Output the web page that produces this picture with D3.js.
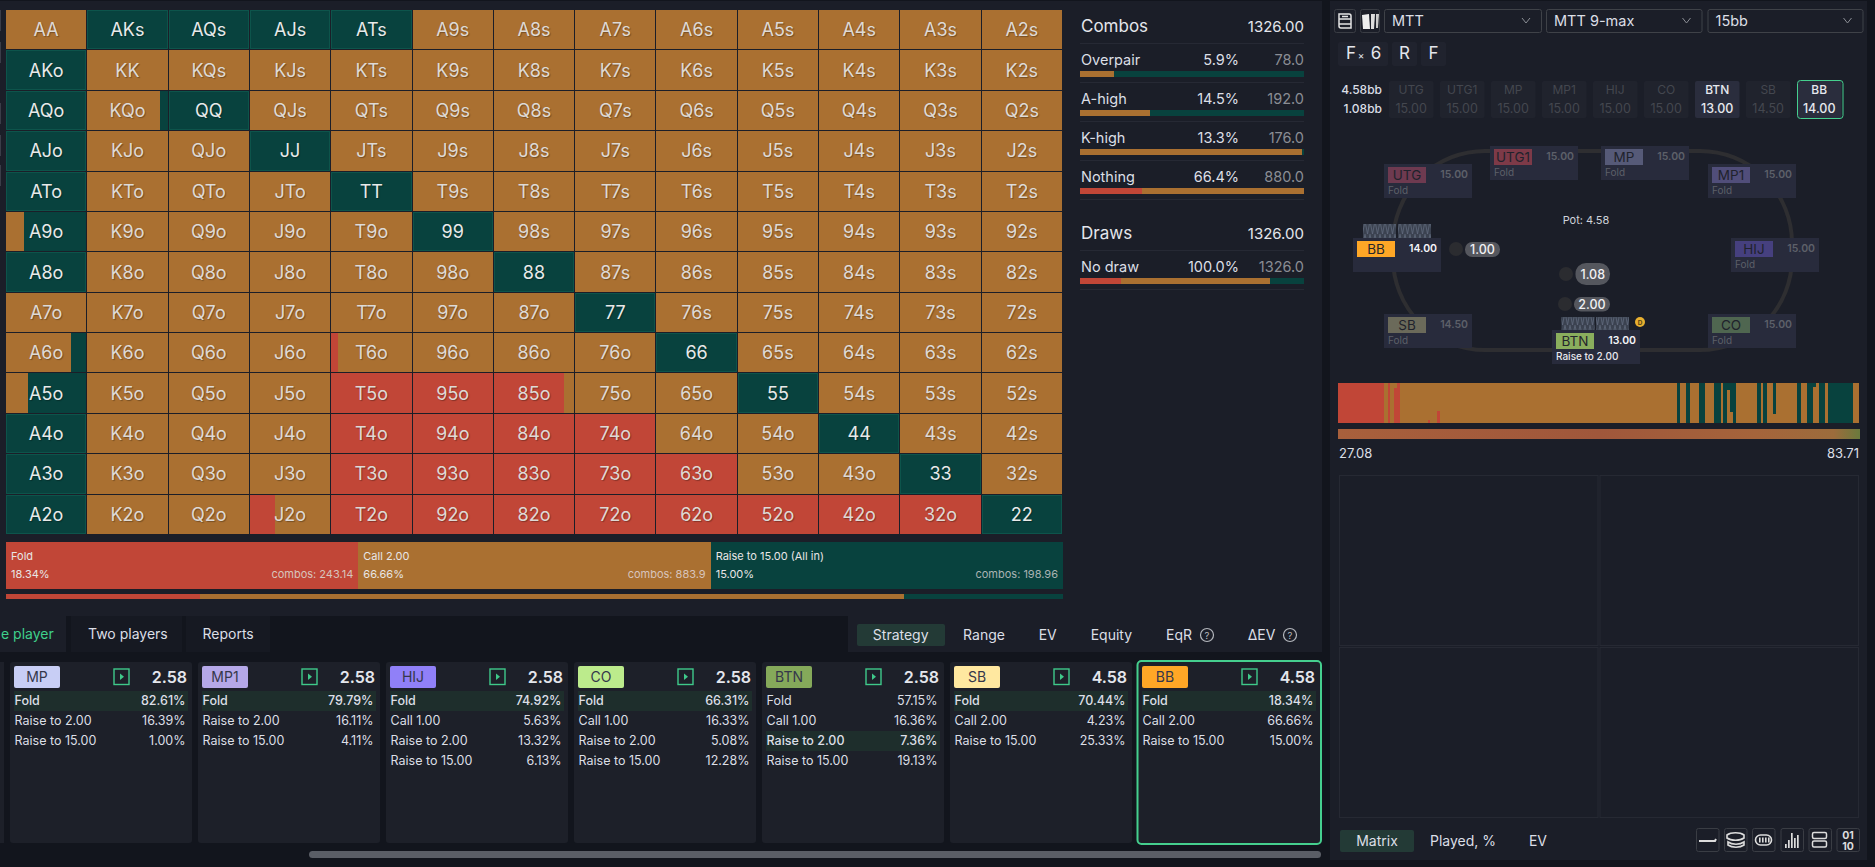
<!DOCTYPE html>
<html>
<head>
<meta charset="utf-8">
<script src="https://cdn.jsdelivr.net/npm/d3@7"></script>
<style>
html, body { margin: 0; padding: 0; background: #12151d; overflow: hidden; }
svg { display: block; }
text { font-family: Inter, "Noto Sans", sans-serif; }
.hand { text-shadow: 1px 1px 1px rgba(0,0,0,.3); }
</style>
</head>
<body>
<svg id="chart" width="1875" height="867"></svg>
<script>
const FOLD = '#c14637', CALL = '#aa7031', RAISE = '#08423e';

// ---- matrix ----
const ranks = ['A','K','Q','J','T','9','8','7','6','5','4','3','2'];
const matrixRows = [
  'CRRRRCCCCCCCC',
  'RCCCCCCCCCCCC',
  'RCRCCCCCCCCCC',
  'RCCRCCCCCCCCC',
  'RCCCRCCCCCCCC',
  'CCCCCRCCCCCCC',
  'RCCCCCRCCCCCC',
  'CCCCCCCRCCCCC',
  'CCCCCCCCRCCCC',
  'CCCCFFFCCRCCC',
  'RCCCFFFFCCRCC',
  'RCCCFFFFFCCRC',
  'RCCCFFFFFFFFR'
];
// hands that are split between actions: [hand, fold, call, raise]
const mixedHands = [
  ['KQo', 0, 0.90, 0.10],
  ['A9o', 0, 0.22, 0.78],
  ['A6o', 0, 0.81, 0.19],
  ['A5o', 0, 0.28, 0.72],
  ['T6o', 0.08, 0.92, 0],
  ['85o', 0.87, 0.13, 0],
  ['J2o', 0.31, 0.69, 0]
];

// ---- action summary ----
const actionNames = ['Fold', 'Call 2.00', 'Raise to 15.00 (All in)'];
const actionPct = [18.34, 66.66, 15.00];
const actionPctLabels = ['18.34%', '66.66%', '15.00%'];
const actionCombos = ['243.14', '883.9', '198.96'];
const actionColors = [FOLD, CALL, RAISE];

// ---- combos / draws panel ----
const statLabels = ['Overpair', 'A-high', 'K-high', 'Nothing'];
const statPct = ['5.9%', '14.5%', '13.3%', '66.4%'];
const statCombos = ['78.0', '192.0', '176.0', '880.0'];
const statFold = [0, 0, 0, 0.277];
const statCall = [0.152, 0.312, 0.99, 0.723];
const statRaise = [0.848, 0.688, 0.01, 0];
const drawLabels = ['No draw'];
const drawPct = ['100.0%'];
const drawCombos = ['1326.0'];
const drawFold = [0.183];
const drawCall = [0.667];
const drawRaise = [0.15];

// ---- table ----
const positions = ['UTG','UTG1','MP','MP1','HIJ','CO','BTN','SB','BB'];
const stacks = ['15.00','15.00','15.00','15.00','15.00','15.00','13.00','14.50','14.00'];
const seatActions = ['Fold','Fold','Fold','Fold','Fold','Fold','Raise to 2.00','Fold',''];
const seatChipColors = ['#6e3a50','#7d3a48','#565a78','#514e7a','#46407f','#4f6650','#8aae5d','#6b6a5a','#ffa726'];
const seatLeft = [1384, 1490, 1601, 1708, 1731, 1708, 1552, 1384, 1353];
const seatTop = [164, 146, 146, 164, 238, 314, 330, 314, 238];

// ---- EV strip, one column per hand class ----
const stripCount = 169;
const stripFoldFull = [0,1,2,3,4,5,6,7,8,9,10,11,12,13,14,16,19];
const stripFoldPart = [[18, 0.87], [29, 0.08], [32, 0.31]];
const stripRaiseFull = [110,113,117,118,122,123,125,128,136,138,149,152,153,156,157,159,160,161,162,163,164,165,166];
const stripRaisePart = [[126, 0.18], [127, 0.72], [141, 0.78], [154, 0.10]];

// ---- strategy cards ----
const cardNames = ['MP','MP1','HIJ','CO','BTN','SB','BB'];
const cardPots = ['2.58','2.58','2.58','2.58','2.58','4.58','4.58'];
const cardColors = ['#c8cef5','#b5a8e8','#9080f8','#bceb8c','#85a95a','#ffe8a0','#ffa726'];
const cardLabels = [
  ['Fold','Raise to 2.00','Raise to 15.00'],
  ['Fold','Raise to 2.00','Raise to 15.00'],
  ['Fold','Call 1.00','Raise to 2.00','Raise to 15.00'],
  ['Fold','Call 1.00','Raise to 2.00','Raise to 15.00'],
  ['Fold','Call 1.00','Raise to 2.00','Raise to 15.00'],
  ['Fold','Call 2.00','Raise to 15.00'],
  ['Fold','Call 2.00','Raise to 15.00']
];
const cardValues = [
  ['82.61%','16.39%','1.00%'],
  ['79.79%','16.11%','4.11%'],
  ['74.92%','5.63%','13.32%','6.13%'],
  ['66.31%','16.33%','5.08%','12.28%'],
  ['57.15%','16.36%','7.36%','19.13%'],
  ['70.44%','4.23%','25.33%'],
  ['18.34%','66.66%','15.00%']
];
const cardHighlight = [0, 0, 0, 0, 2, 0, 0];

const svg = d3.select('#chart');

function rect(x, y, w, h, fill, rx) {
  return svg.append('rect').attr('x', x).attr('y', y).attr('width', w).attr('height', h)
    .attr('fill', fill).attr('rx', rx || 0);
}
function box(x, y, w, h, stroke, rx) {
  return rect(x + 0.5, y + 0.5, w - 1, h - 1, 'none', rx).attr('stroke', stroke);
}
function label(x, y, s, size, fill, anchor, weight) {
  return svg.append('text').attr('x', x).attr('y', y).text(s)
    .attr('font-size', size).attr('fill', fill)
    .attr('text-anchor', anchor || 'start').attr('font-weight', weight || 400);
}

// backgrounds
rect(0, 1, 1322, 615, '#1b1e28');
rect(1330, 1, 537, 859, '#1b1e28');
rect(848, 616, 474, 36, '#1b1e28');
rect(0, 616, 66, 36, '#1b1e28');
rect(71, 616, 111, 36, '#161922');
rect(186, 616, 84, 36, '#161922');
[10, 42, 103, 135, 165].forEach(y => rect(0, y, 1, 21, '#3a3d48'));

// ---- matrix ----
const cols = d3.scaleBand().domain(d3.range(13)).range([6, 1063]);
const rows = d3.scaleBand().domain(d3.range(13)).range([10, 535]);
const cellGap = 1;

const mixedLookup = new Map(mixedHands.map(d => [d[0], d.slice(1)]));
const simpleShares = { F: [1, 0, 0], C: [0, 1, 0], R: [0, 0, 1] };

function handName(r, c) {
  if (r === c) return ranks[r] + ranks[c];
  return r < c ? ranks[r] + ranks[c] + 's' : ranks[c] + ranks[r] + 'o';
}

const cells = [];
matrixRows.forEach((line, r) => {
  line.split('').forEach((code, c) => {
    const hand = handName(r, c);
    cells.push({ r, c, hand, code, shares: mixedLookup.get(hand) || simpleShares[code] });
  });
});

const cellG = svg.append('g').attr('shape-rendering', 'crispEdges');
cells.forEach(d => {
  const x0 = cols(d.c), w = cols.bandwidth() - cellGap;
  const y0 = rows(d.r), h = rows.bandwidth() - cellGap;
  const share = d3.scaleLinear().domain([0, 1]).range([x0, x0 + w]);
  let acc = 0;
  d.shares.forEach((s, i) => {
    if (s <= 0) return;
    cellG.append('rect').attr('x', share(acc)).attr('y', y0)
      .attr('width', share(acc + s) - share(acc)).attr('height', h)
      .attr('fill', actionColors[i]);
    acc += s;
  });
  if (d.shares[2] === 1) {
    cellG.append('rect').attr('x', x0 + 0.5).attr('y', y0 + 0.5)
      .attr('width', w - 1).attr('height', h - 1)
      .attr('fill', 'none').attr('stroke', '#0d544b');
  }
});
svg.append('g').selectAll('text').data(cells).join('text')
  .attr('class', 'hand')
  .attr('x', d => cols(d.c) + cols.bandwidth() / 2 - 0.5)
  .attr('y', d => rows(d.r) + rows.bandwidth() / 2 + 6)
  .attr('text-anchor', 'middle')
  .attr('font-size', 18)
  .attr('fill', d => d.shares[2] > 0.5 ? '#e8eaea' : '#dedad6')
  .text(d => d.hand);

// ---- action legend ----
const legendX = d3.scaleBand().domain(d3.range(actionNames.length)).range([6, 1063]);
actionNames.forEach((name, i) => {
  const x = legendX(i), w = legendX.bandwidth();
  rect(x, 542, w, 47, actionColors[i]).attr('shape-rendering', 'crispEdges');
  label(x + 5, 560, name, 11, '#e8e6e6');
  label(x + 5, 578, actionPctLabels[i], 11, '#e8e6e6');
  label(x + w - 5, 578, 'combos: ' + actionCombos[i], 11, i === 2 ? '#aab3b3' : '#d8c4bc', 'end');
});
const thinX = d3.scaleLinear().domain([0, 100]).range([6, 1063]);
let thinAcc = 0;
actionPct.forEach((p, i) => {
  rect(thinX(thinAcc), 594, thinX(p) - thinX(0), 5, actionColors[i]).attr('shape-rendering', 'crispEdges');
  thinAcc += p;
});

// ---- combos panel ----
const statX = d3.scaleLinear().domain([0, 1]).range([1080, 1304]);
function statRow(y, name, pct, combos, f, c, r) {
  label(1081, y, name, 14.5, '#dcdfe6');
  label(1239, y, pct, 14.5, '#dcdfe6', 'end');
  label(1304, y, combos, 14.5, '#8a8d94', 'end');
  let acc = 0;
  [f, c, r].forEach((s, i) => {
    if (s <= 0) return;
    rect(statX(acc), y + 6, statX(acc + s) - statX(acc), 6, actionColors[i]).attr('shape-rendering', 'crispEdges');
    acc += s;
  });
  rect(1080, y + 17, 224, 1, '#262934');
}
label(1081, 32, 'Combos', 17, '#e4e6ec');
label(1304, 32, '1326.00', 15, '#e4e6ec', 'end');
rect(1080, 43, 224, 1, '#262934');
statLabels.forEach((name, i) => {
  statRow(65 + i * 39, name, statPct[i], statCombos[i], statFold[i], statCall[i], statRaise[i]);
});
label(1081, 239, 'Draws', 17, '#e4e6ec');
label(1304, 239, '1326.00', 15, '#e4e6ec', 'end');
rect(1080, 250, 224, 1, '#262934');
drawLabels.forEach((name, i) => {
  statRow(272 + i * 39, name, drawPct[i], drawCombos[i], drawFold[i], drawCall[i], drawRaise[i]);
});

// ---- top right toolbar ----
box(1334, 9, 22, 24, '#3a3d44', 2);
svg.append('path').attr('d', 'M1339 14h10a2 2 0 0 1 2 2v12h-10a2 2 0 0 1 -2 -2z M1339 19h12 M1339 24h12 M1342 16.5h6')
  .attr('fill', 'none').attr('stroke', '#e4e4e4').attr('stroke-width', 1.5);
box(1360, 9, 20, 24, '#3a3d44', 2);
svg.append('path').attr('d', 'M1362 15l7-1 1 15-7 0z').attr('fill', '#eeeeee');
svg.append('path').attr('d', 'M1371 14l4 0-1 15-3 0z').attr('fill', '#dddddd');
svg.append('path').attr('d', 'M1376 14l3 0-1 14-2 0z').attr('fill', '#cccccc');

const dropdownLabels = ['MTT', 'MTT 9-max', '15bb'];
const dropLeft = [1384, 1546, 1707.5];
const dropWidth = [158, 156.5, 156];
dropdownLabels.forEach((s, i) => {
  box(dropLeft[i], 9, dropWidth[i], 24, '#3f4248', 2);
  label(dropLeft[i] + 8, 26, s, 14.5, '#dcdfe6');
  const cx = dropLeft[i] + dropWidth[i] - 16;
  svg.append('path').attr('d', `M${cx - 4} 18l4 5 4-5`).attr('fill', 'none').attr('stroke', '#8a8d94');
});

// breadcrumb
const crumbLeft = [1338, 1392, 1421];
const crumbWidth = [50, 25, 25];
const crumbText = ['F', 'R', 'F'];
crumbText.forEach((s, i) => {
  rect(crumbLeft[i], 42, crumbWidth[i], 24, '#20232e', 2);
});
label(1346, 59, 'F', 17, '#e4e6ec');
label(1361, 59, '×', 10, '#e4e6ec', 'middle');
label(1376, 59, '6', 17, '#e4e6ec', 'middle');
label(1404.5, 59, 'R', 17, '#e4e6ec', 'middle');
label(1433.5, 59, 'F', 17, '#e4e6ec', 'middle');

// stacks row
label(1382, 94, '4.58bb', 12, '#dcdfe6', 'end', 500);
label(1382, 113, '1.08bb', 12, '#dcdfe6', 'end', 500);
const stackX = d3.scaleBand().domain(positions).range([1389, 1848]);
positions.forEach((p, i) => {
  const x = stackX(p), active = p === 'BTN' || p === 'BB';
  rect(x, 81, 44.5, 37, active ? '#2a2d3d' : '#20232d', 2);
  const col = active ? '#e6e8ee' : '#44474f';
  label(x + 22.2, 94, p, 12, col, 'middle', active ? 500 : 400);
  label(x + 22.2, 113, stacks[i], 12.5, col, 'middle', active ? 500 : 400);
  if (p === 'BB') {
    rect(x + 0.5, 80.5, 45.5, 38, 'none', 3).attr('stroke', '#45cf8e').attr('stroke-width', 1);
  }
});

// ---- table ----
rect(1393, 151, 399, 199, 'none', 92).attr('stroke', '#2e2e31').attr('stroke-width', 4);
label(1586, 224, 'Pot: 4.58', 11, '#cfd3da', 'middle');

const defs = svg.append('defs');
defs.append('pattern').attr('id', 'zig').attr('patternUnits', 'userSpaceOnUse')
  .attr('width', 5).attr('height', 13)
  .append('path').attr('d', 'M0 0 L2.5 13 L5 0').attr('fill', 'none').attr('stroke', '#5f6a7c').attr('stroke-width', 0.8);

[[1363, 224], [1398, 224], [1561.5, 317], [1596, 317]].forEach(p => {
  rect(p[0], p[1], 33, 14, '#3b4250');
  rect(p[0], p[1], 33, 14, 'url(#zig)');
});

positions.forEach((p, i) => {
  const x = seatLeft[i], y = seatTop[i];
  const live = p === 'BTN' || p === 'BB';
  rect(x, y, 88, 34, '#282b3c');
  rect(x + 4, y + 3, 38, 16, seatChipColors[i]);
  label(x + 23, y + 16, p, 13.5, live ? '#25262c' : '#20222c', 'middle');
  label(x + 84, y + 14, stacks[i], 10.5, live ? '#f4f4f8' : '#5d6069', 'end', 600);
  label(x + 4, y + 30, seatActions[i], 10, live ? '#e8e8ee' : '#5d6069', 'start', live ? 500 : 400);
});

const betLabels = ['1.00', '1.08', '2.00'];
const betDotX = [1456, 1566, 1565];
const betDotY = [249, 274, 304];
const betPillX = [1465, 1575.5, 1574];
const betPillY = [242, 263, 297];
const betPillW = [35, 34.5, 36];
const betPillH = [15, 22, 14.5];
betLabels.forEach((s, i) => {
  svg.append('circle').attr('cx', betDotX[i]).attr('cy', betDotY[i]).attr('r', 7).attr('fill', '#2b2c30');
  rect(betPillX[i], betPillY[i], betPillW[i], betPillH[i], '#55575e', betPillH[i] * 0.48);
  label(betPillX[i] + betPillW[i] / 2, betPillY[i] + betPillH[i] / 2 + 4.5, s, 12.5, '#f0f0f3', 'middle', 500);
});
svg.append('circle').attr('cx', 1640).attr('cy', 322).attr('r', 5).attr('fill', '#e8b030');
label(1640, 324.5, 'D', 6.5, '#5a4510', 'middle', 700);

// ---- EV strip ----
const stripRows = d3.range(stripCount).map(i => ({ i, fold: 0, call: 1, raise: 0 }));
stripFoldFull.forEach(i => { stripRows[i].fold = 1; stripRows[i].call = 0; });
stripRaiseFull.forEach(i => { stripRows[i].raise = 1; stripRows[i].call = 0; });
stripFoldPart.forEach(([i, s]) => { stripRows[i].fold = s; stripRows[i].call = 1 - s; });
stripRaisePart.forEach(([i, s]) => { stripRows[i].raise = s; stripRows[i].call = 1 - s; });

const stripX = d3.scaleBand().domain(d3.range(stripCount)).range([1338, 1859]);
const stripY = d3.scaleLinear().domain([0, 1]).range([423, 383]);
const stripKeys = ['fold', 'call', 'raise'];
const stripStack = d3.stack().keys(stripKeys)(stripRows);
svg.append('g').attr('shape-rendering', 'crispEdges').selectAll('g').data(stripStack).join('g')
  .attr('fill', (d, i) => actionColors[i])
  .selectAll('rect').data(d => d).join('rect')
  .attr('x', d => stripX(d.data.i))
  .attr('width', stripX.bandwidth() + 0.3)
  .attr('y', d => stripY(d[1]))
  .attr('height', d => stripY(d[0]) - stripY(d[1]));

const grad = defs.append('linearGradient').attr('id', 'evGrad');
[[0, '#a8603c'], [0.5, '#a0573b'], [0.8, '#a5643b'], [0.95, '#9c6c3c'], [1, '#6a7a3d']].forEach(s => {
  grad.append('stop').attr('offset', s[0]).attr('stop-color', s[1]);
});
rect(1338, 429, 522, 10, 'url(#evGrad)');
label(1339, 458, '27.08', 13, '#dcdfe6');
label(1859, 458, '83.71', 13, '#dcdfe6', 'end');

// ---- analysis panels ----
const panelX = d3.scaleBand().domain([0, 1]).range([1339, 1860]);
const panelY = d3.scaleBand().domain([0, 1]).range([475, 819]);
[0, 1].forEach(r => [0, 1].forEach(c => {
  box(panelX(c), panelY(r), panelX.bandwidth() - 1, panelY.bandwidth() - 1, '#262933');
}));
rect(1340, 830, 74, 22, '#233a36', 2);
label(1377, 846, 'Matrix', 14, '#dcdfe6', 'middle');
label(1463, 846, 'Played, %', 14, '#dcdfe6', 'middle');
label(1538, 846, 'EV', 14, '#dcdfe6', 'middle');

const toolLeft = [1696, 1724, 1752, 1780.5, 1808.5, 1836.5];
toolLeft.forEach(x => box(x, 828, 23.5, 24, '#3a3d44', 2));
svg.append('path').attr('d', 'M1699 841h16 l1 -2').attr('fill', 'none').attr('stroke', '#dcdcdc').attr('stroke-width', 2);
svg.append('path').attr('d', 'M1727 835c4-3 13-3 17 0v3c-4 3-13 3-17 0z M1728 842c4 3 12 3 16 0v3c-4 3-12 3-16 0z')
  .attr('fill', 'none').attr('stroke', '#dcdcdc').attr('stroke-width', 1.6);
rect(1755.5, 835, 16, 10, 'none', 5).attr('stroke', '#dcdcdc').attr('stroke-width', 1.6);
[1759, 1762, 1765, 1768].forEach(x => rect(x, 837.5, 1.6, 5, '#dcdcdc'));
const toolBars = [4, 8, 15, 10, 13];
toolBars.forEach((h, i) => rect(1785 + i * 3, 848 - h, 1.7, h, '#dcdcdc'));
rect(1812.5, 832.5, 14, 6, 'none', 1.5).attr('stroke', '#dcdcdc').attr('stroke-width', 1.5);
rect(1812.5, 841, 14, 6, 'none', 1.5).attr('stroke', '#dcdcdc').attr('stroke-width', 1.5);
label(1848, 839, '01', 10.5, '#dcdcdc', 'middle', 700);
label(1848, 850, '10', 10.5, '#dcdcdc', 'middle', 700);

// ---- tabs ----
label(1, 639, 'e player', 14, '#3fd08c');
label(88, 639, 'Two players', 14, '#dcdfe6');
label(202.5, 639, 'Reports', 14, '#dcdfe6');
rect(857, 624, 88, 22, '#233a36', 2);
const viewTabs = ['Strategy', 'Range', 'EV', 'Equity', 'EqR', 'ΔEV'];
const viewTabX = [900.7, 984, 1047.7, 1111.4, 1179, 1261.5];
viewTabs.forEach((s, i) => label(viewTabX[i], 640, s, 14, '#dcdfe6', 'middle'));
[1207, 1290].forEach(cx => {
  svg.append('circle').attr('cx', cx).attr('cy', 635).attr('r', 6.5)
    .attr('fill', 'none').attr('stroke', '#b4b7bd').attr('stroke-width', 1.2);
  label(cx, 638.5, '?', 9.5, '#b4b7bd', 'middle');
});

// ---- strategy cards ----
const cardX = d3.scaleLinear().domain([0, 1]).range([10, 198]);
rect(0, 662, 4, 181, '#1d2029');
cardNames.forEach((name, i) => {
  const x = cardX(i);
  rect(x, 662, 182, 181, '#1d2029', 3);
  rect(x + 4, 666, 46, 22, cardColors[i], 2);
  label(x + 27, 682, name, 14, '#35374a', 'middle');
  rect(x + 104, 669, 15, 15.5, 'none').attr('stroke', '#3fc98a').attr('stroke-width', 1.4);
  svg.append('path').attr('d', `M${x + 110} 673.5l4 3.3-4 3.3z`).attr('fill', '#3fc98a');
  label(x + 177, 683, cardPots[i], 16, '#e4e6ec', 'end', 600);
  cardLabels[i].forEach((s, j) => {
    const y = 691 + j * 20;
    const hl = j === cardHighlight[i];
    if (hl) rect(x + 4, y, 174, 20, '#1e2e2c');
    const w = hl ? 500 : 400;
    label(x + 4.5, y + 13.5, s, 12.5, '#dcdfe6', 'start', w);
    label(x + 175.5, y + 13.5, cardValues[i][j], 12.5, '#dcdfe6', 'end', w);
  });
});
const lastX = cardX(6);
rect(lastX - 0.5, 661, 183.5, 183, 'none', 4).attr('stroke', '#45cf8e').attr('stroke-width', 2);

// scrollbar
rect(309, 851, 1012, 7, '#5a5e66', 3.5);
</script>
</body>
</html>
